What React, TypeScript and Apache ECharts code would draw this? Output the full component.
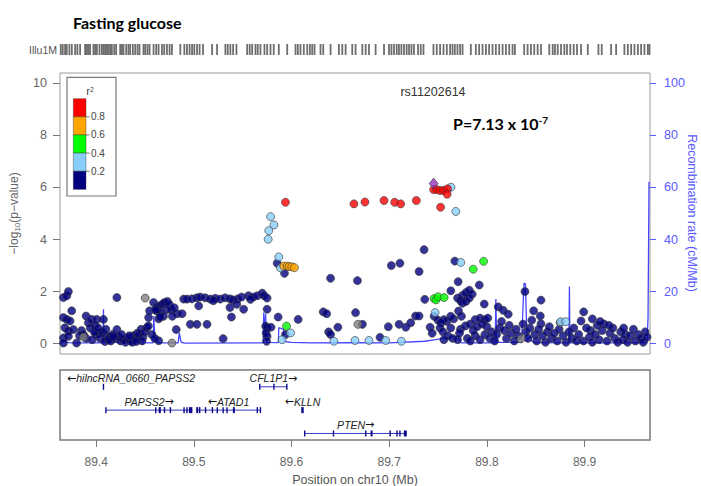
import React, { useEffect, useRef } from "react";
import * as echarts from "echarts";

// ---------- axis ranges / ticks ----------
const X_MIN = 89.363;
const X_MAX = 89.967;
const xTicks = [89.4, 89.5, 89.6, 89.7, 89.8, 89.9];
const pTicks = [0, 2, 4, 6, 8, 10];
const recTicks = [0, 20, 40, 60, 80, 100];

// ---------- LD legend ----------
const r2Breaks = ["0.8", "0.6", "0.4", "0.2"];
const r2Colors = ["#FF0000", "#FFA500", "#00FF00", "#87CEFA", "#000080"]; // top -> bottom

// ---------- SNPs: [position (Mb), -log10 p] ----------
const navySnps: number[][] = [
  [89.3665, 1.77], [89.37, 1.84], [89.3716, 2.0], [89.3665, 1.0], [89.37, 0.93], [89.3733, 0.87], [89.368, 0.61],
  [89.3716, 0.48], [89.375, 1.26], [89.3665, 0.22], [89.3665, 0.02], [89.3716, 0.28], [89.3767, 0.54], [89.38, 0.02],
  [89.385, 0.5], [89.3897, 1.06], [89.392, 0.8], [89.394, 0.6], [89.3955, 0.93], [89.4007, 0.93], [89.4075, 0.93],
  [89.399, 0.7], [89.403, 0.4], [89.4, 0.35], [89.406, 0.45], [89.404, 0.2], [89.411, 0.3], [89.414, 0.25],
  [89.409, 0.08], [89.4125, 0.15], [89.387, 0.35], [89.39, 0.2], [89.383, 0.3], [89.396, 0.15], [89.398, 0.45],
  [89.402, 0.6], [89.41, 0.55], [89.415, 0.1], [89.417, 0.35], [89.4212, 1.77], [89.4212, 0.54], [89.419, 0.2],
  [89.423, 0.27], [89.425, 0.1], [89.428, 0.15], [89.43, 0.05], [89.432, 0.22], [89.435, 0.1], [89.437, 0.05],
  [89.438, 0.3], [89.44, 0.2], [89.442, 0.4], [89.444, 0.35], [89.446, 0.55], [89.448, 0.25], [89.45, 0.45],
  [89.447, 0.1], [89.441, 0.08], [89.434, 0.3], [89.426, 0.35], [89.4178, 0.28], [89.452, 0.62], [89.4535, 0.68],
  [89.4537, 1.0], [89.4547, 1.26], [89.4588, 1.58], [89.462, 1.4], [89.465, 1.45], [89.468, 1.52], [89.47, 1.58],
  [89.473, 1.62], [89.475, 1.5], [89.472, 1.3], [89.477, 1.3], [89.48, 1.38], [89.483, 1.15], [89.462, 1.25],
  [89.466, 1.2], [89.469, 1.05], [89.464, 0.95], [89.461, 1.3], [89.478, 1.05], [89.4656, 1.02], [89.464, 0.11],
  [89.482, 0.54], [89.488, 1.15], [89.457, 0.35], [89.46, 0.2],
  [89.4896, 1.71], [89.493, 1.71], [89.498, 1.72], [89.503, 1.76], [89.5066, 1.79], [89.5117, 1.76], [89.5168, 1.71],
  [89.522, 1.74], [89.527, 1.71], [89.532, 1.76], [89.537, 1.72], [89.54, 1.68], [89.545, 1.72], [89.549, 1.79],
  [89.556, 1.84], [89.561, 1.79], [89.565, 1.84], [89.57, 1.94], [89.572, 1.84], [89.575, 1.75], [89.505, 1.45],
  [89.537, 1.39], [89.544, 1.51], [89.551, 1.32], [89.52, 1.65], [89.558, 1.7], [89.4964, 0.74], [89.5032, 0.74],
  [89.5135, 0.74], [89.53, 0.19], [89.5385, 1.02], [89.575, 1.32], [89.5735, 0.67], [89.575, 0.61], [89.574, 0.41],
  [89.575, 0.28], [89.5745, 0.09], [89.579, 0.63], [89.5863, 1.02], [89.5938, 0.35], [89.6068, 0.93],
  [89.5853, 3.09], [89.5928, 2.7],
  [89.64, 2.51], [89.6325, 1.22], [89.636, 1.15], [89.638, 0.45], [89.64, 0.35], [89.6475, 0.63], [89.6656, 1.19],
  [89.6726, 0.74], [89.6906, 0.24], [89.6675, 2.42], [89.7022, 3.0], [89.711, 3.09], [89.6991, 0.65], [89.7101, 0.74],
  [89.717, 0.63], [89.722, 0.8], [89.727, 1.06], [89.7306, 1.06], [89.7357, 3.61], [89.7306, 2.77], [89.7364, 1.7],
  [89.7419, 0.63], [89.744, 0.4], [89.746, 1.05], [89.75, 0.9],
  [89.7631, 2.03], [89.7672, 3.17], [89.7706, 2.38], [89.7922, 2.25], [89.77, 1.75], [89.775, 1.85], [89.7785, 1.96],
  [89.782, 2.05], [89.785, 1.9], [89.773, 1.65], [89.775, 1.55], [89.7785, 1.62], [89.782, 1.75], [89.7973, 1.52],
  [89.771, 1.25], [89.774, 1.05], [89.766, 0.95], [89.763, 1.05], [89.759, 0.85], [89.756, 0.92], [89.753, 0.8],
  [89.752, 0.6], [89.755, 0.45], [89.763, 0.6], [89.773, 0.55], [89.778, 0.68], [89.783, 0.75], [89.788, 0.92],
  [89.793, 0.98], [89.798, 0.92], [89.801, 0.98], [89.76, 0.3], [89.765, 0.2], [89.77, 0.15], [89.772, 0.4],
  [89.78, 0.2], [89.783, 0.1], [89.788, 0.3], [89.793, 0.15], [89.798, 0.35], [89.803, 0.2], [89.805, 0.45],
  [89.8, 0.65], [89.786, 0.5], [89.756, 0.15], [89.79, 0.65], [89.795, 0.75],
  [89.8116, 1.41], [89.8167, 1.28], [89.8219, 1.13], [89.839, 2.0], [89.8479, 1.26], [89.8554, 1.67], [89.8547, 1.06],
  [89.8554, 0.76], [89.8991, 1.22], [89.8964, 0.87], [89.9062, 0.5],
  [89.808, 0.1], [89.81, 0.35], [89.813, 0.6], [89.815, 0.85], [89.818, 0.5], [89.82, 0.2], [89.823, 0.7],
  [89.825, 0.4], [89.828, 0.1], [89.83, 0.55], [89.832, 0.3], [89.837, 0.75], [89.84, 0.45], [89.842, 0.2],
  [89.844, 0.6], [89.846, 0.9], [89.849, 0.35], [89.851, 0.1], [89.853, 0.55], [89.857, 0.3], [89.86, 0.05],
  [89.862, 0.45], [89.864, 0.65], [89.866, 0.2], [89.869, 0.4], [89.872, 0.1], [89.874, 0.55], [89.878, 0.3],
  [89.881, 0.05], [89.884, 0.45], [89.887, 0.2], [89.889, 0.6], [89.892, 0.1], [89.894, 0.35], [89.899, 0.1],
  [89.902, 0.6], [89.905, 0.25], [89.908, 0.05], [89.911, 0.35], [89.913, 0.7], [89.915, 0.15], [89.918, 0.5],
  [89.92, 0.75], [89.923, 0.1], [89.926, 0.4], [89.929, 0.6], [89.931, 0.2], [89.934, 0.05], [89.937, 0.45],
  [89.939, 0.15], [89.942, 0.35], [89.944, 0.05], [89.947, 0.3], [89.95, 0.55], [89.952, 0.1], [89.955, 0.35],
  [89.958, 0.2], [89.96, 0.05], [89.962, 0.45], [89.964, 0.25], [89.908, 0.95], [89.916, 0.85], [89.925, 0.7],
  [89.94, 0.6],
];
const greySnps: number[][] = [
  [89.387, 0.25], [89.4502, 1.75], [89.4776, 0.02], [89.668, 0.74], [89.8349, 0.18], [89.875, 0.8],
];
const lightBlueSnps: number[][] = [
  [89.5786, 4.88], [89.582, 4.56], [89.5767, 4.34], [89.5761, 4.01], [89.587, 3.33], [89.5887, 2.91], [89.5904, 0.15],
  [89.599, 0.41], [89.6434, 0.09], [89.665, 0.12], [89.6793, 0.12], [89.6964, 0.12], [89.7125, 0.09], [89.747, 1.19],
  [89.7733, 3.12], [89.7632, 6.01], [89.7682, 5.08], [89.8756, 0.84], [89.8807, 0.84],
];
const greenSnps: number[][] = [
  [89.5949, 0.67], [89.746, 1.73], [89.748, 1.68], [89.7501, 1.8], [89.7562, 1.77], [89.786, 2.86], [89.7966, 3.16],
];
const orangeSnps: number[][] = [
  [89.592, 2.98], [89.5955, 2.98], [89.5976, 2.96], [89.6003, 2.95], [89.603, 2.92],
];
const redSnps: number[][] = [
  [89.5938, 5.43], [89.6639, 5.37], [89.6752, 5.44], [89.6947, 5.5], [89.7056, 5.43], [89.7118, 5.37], [89.7278, 5.5],
  [89.7526, 5.24], [89.7455, 5.92], [89.7485, 5.92], [89.752, 5.88], [89.7556, 5.89], [89.7597, 5.95], [89.7593, 5.74],
];
const indexSnp: number[][] = [[89.7455, 6.15]];

// ---------- recombination rate ----------
const recPos = [
  89.363, 89.3655, 89.3665, 89.368, 89.372, 89.376, 89.407, 89.4075, 89.408, 89.4585, 89.459, 89.46, 89.463, 89.484,
  89.4851, 89.487, 89.49, 89.571, 89.5716, 89.5725, 89.5735, 89.5745, 89.5865, 89.587, 89.592, 89.5925, 89.6, 89.62,
  89.66, 89.7, 89.7366, 89.7477, 89.755, 89.7631, 89.7699, 89.7733, 89.78, 89.8085, 89.8092, 89.81, 89.8355, 89.838,
  89.8395, 89.841, 89.844, 89.846, 89.848, 89.884, 89.8845, 89.885, 89.964, 89.965, 89.966, 89.967,
];
const recRate = [
  0.2, 0.3, 1.2, 0.8, 0.4, 0.3, 0.3, 13.2, 0.5, 0.3, 10.6, 2.5, 0.3, 0.3, 4.1, 0.6, 0.2, 0.3, 11.9, 3.0, 11.5, 0.5,
  0.4, 6.1, 5.5, 0.8, 0.5, 0.3, 0.4, 0.3, 0.9, 1.5, 2.0, 2.4, 2.8, 0.3, 0.3, 0.3, 17.1, 0.5, 0.5, 23.2, 23.0, 1.0,
  3.0, 1.0, 0.4, 0.3, 21.9, 0.3, 0.3, 10, 62, 62,
];

// ---------- Illu1M array positions (Mb) ----------
const rugPositions = [
  89.3638, 89.3658, 89.3682, 89.3699, 89.3726, 89.3751, 89.3785, 89.3808, 89.3836, 89.3887, 89.3905, 89.3921, 89.3938,
  89.3972, 89.399, 89.4007, 89.4034, 89.4058, 89.4075, 89.4092, 89.411, 89.4126, 89.4144, 89.4161, 89.4185, 89.4205,
  89.4246, 89.4264, 89.428, 89.4308, 89.4331, 89.4349, 89.4376, 89.44, 89.4424, 89.4444, 89.4485, 89.4503, 89.4526,
  89.4547, 89.4588, 89.4615, 89.4639, 89.4674, 89.4697, 89.4725, 89.4752, 89.4776, 89.4862, 89.4903, 89.493, 89.4957,
  89.4982, 89.5005, 89.5033, 89.5059, 89.5094, 89.5187, 89.5238, 89.5323, 89.5347, 89.5374, 89.5402, 89.5436, 89.5546,
  89.5572, 89.5597, 89.5631, 89.5654, 89.5682, 89.5723, 89.5751, 89.5785, 89.5818, 89.587, 89.5956, 89.6041, 89.6065,
  89.6092, 89.6126, 89.6161, 89.6188, 89.6212, 89.6236, 89.6297, 89.6325, 89.64, 89.6485, 89.652, 89.6554, 89.6622,
  89.6656, 89.6725, 89.6759, 89.6793, 89.6861, 89.6947, 89.6998, 89.7023, 89.7049, 89.7077, 89.71, 89.7125, 89.7152,
  89.7179, 89.7203, 89.7228, 89.7254, 89.7295, 89.7323, 89.7351, 89.7453, 89.7487, 89.7521, 89.7556, 89.759, 89.7623,
  89.7648, 89.7672, 89.7699, 89.7726, 89.7751, 89.7836, 89.7887, 89.7921, 89.7956, 89.799, 89.8023, 89.8058, 89.8092,
  89.8126, 89.8161, 89.8195, 89.8229, 89.8263, 89.8287, 89.8382, 89.8417, 89.8451, 89.8485, 89.852, 89.8554, 89.8639,
  89.8674, 89.8697, 89.8725, 89.8759, 89.8793, 89.882, 89.8854, 89.8889, 89.8923, 89.8964, 89.9033, 89.9142, 89.9176,
  89.9272, 89.9323, 89.9408, 89.9443, 89.9477, 89.9511, 89.9546, 89.9579, 89.9613, 89.9648, 89.9665,
];

// ---------- genes ----------
const geneNames = ["hilncRNA_0660_PAPSS2", "CFL1P1", "PAPSS2", "ATAD1", "KLLN", "PTEN"];
const geneStarts = [89.4075, 89.5675, 89.41, 89.5025, 89.61, 89.6135];
const geneEnds = [89.4085, 89.5955, 89.4985, 89.5685, 89.6125, 89.718];
const geneRows = [1, 1, 2, 2, 2, 3];
const geneStrands = [-1, 1, 1, -1, -1, 1];
const geneExons: number[][][] = [
  [[89.4075, 89.4085]],
  [[89.5675, 89.5678], [89.582, 89.5823], [89.5952, 89.5955]],
  [[89.41, 89.4103], [89.461, 89.4613], [89.464, 89.4662], [89.47, 89.4703], [89.476, 89.4763], [89.49, 89.4903],
   [89.493, 89.4933], [89.495, 89.4985]],
  [[89.5025, 89.5045], [89.506, 89.5063], [89.512, 89.5123], [89.519, 89.5193], [89.524, 89.5243], [89.53, 89.5303],
   [89.534, 89.5343], [89.54, 89.542], [89.565, 89.5653], [89.5682, 89.5685]],
  [[89.61, 89.6125]],
  [[89.6135, 89.6138], [89.643, 89.6433], [89.676, 89.6763], [89.681, 89.683], [89.701, 89.7013], [89.708, 89.7083],
   [89.711, 89.7113], [89.715, 89.718]],
];

const FONT = '"Liberation Sans", Arial, sans-serif';

const scatterStyle = (color: string) => ({
  color,
  borderColor: "#3a3a3a",
  borderWidth: 0.8,
});

let measureCtx: CanvasRenderingContext2D | null = null;
function textWidth(t: string, font: string): number {
  if (!measureCtx) measureCtx = document.createElement("canvas").getContext("2d");
  if (!measureCtx) return t.length * 6;
  measureCtx.font = font;
  return measureCtx.measureText(t).width;
}

export default function App() {
  const ref = useRef<HTMLDivElement>(null);

  useEffect(() => {
    if (!ref.current) return;
    const chart = echarts.init(ref.current, undefined, { renderer: "svg" });

    const gridMain = { left: 60, top: 73, width: 590, height: 281 };
    const gridGene = { left: 60, top: 370, width: 590, height: 70 };
    const gridRug = { left: 60, top: 44, width: 590, height: 11 };

    // legend graphics
    const legendX = 67, legendY = 77.3, legendW = 49, legendH = 118.7;
    const segX = 73.3, segW = 12.7, segTop = 98.7, segH = 18.13;
    const legendEls: any[] = [
      { type: "rect", shape: { x: legendX, y: legendY, width: legendW, height: legendH },
        style: { fill: "#fff", stroke: "#7a7a7a", lineWidth: 1.2 }, z: 10 },
      { type: "text", x: 90, y: 91, z: 11,
        style: { text: "r{s|2}", font: `11px ${FONT}`, fill: "#444", align: "center", verticalAlign: "middle",
          rich: { s: { fontSize: 7, fill: "#444", verticalAlign: "top", lineHeight: 8 } } } },
    ];
    r2Colors.forEach((c, k) => {
      legendEls.push({ type: "rect", z: 11,
        shape: { x: segX, y: segTop + k * segH, width: segW, height: segH },
        style: { fill: c, stroke: "#333", lineWidth: 0.4 } });
    });
    r2Breaks.forEach((b, k) => {
      const y = segTop + (k + 1) * segH;
      legendEls.push({ type: "line", z: 11, shape: { x1: segX + segW, y1: y, x2: segX + segW + 3.5, y2: y },
        style: { stroke: "#555", lineWidth: 0.8 } });
      legendEls.push({ type: "text", z: 11, x: segX + segW + 5, y,
        style: { text: b, font: `10px ${FONT}`, fill: "#444", align: "left", verticalAlign: "middle" } });
    });

    const geneData = geneNames.map((_, i) => [geneStarts[i], geneEnds[i], geneRows[i]]);
    const labelFont = `italic 10.5px ${FONT}`;
    const arrowFont = `11px "DejaVu Sans", sans-serif`;

    chart.setOption({
      animation: false,
      backgroundColor: "#fff",
      grid: [
        { ...gridMain, show: true, borderColor: "#9c9c9c", borderWidth: 1, backgroundColor: "transparent",
          outerBoundsMode: "none", containLabel: false },
        { ...gridGene, show: true, borderColor: "#7a7a7a", borderWidth: 1.5, backgroundColor: "transparent",
          outerBoundsMode: "none", containLabel: false },
        { ...gridRug, show: false, outerBoundsMode: "none", containLabel: false },
      ],
      xAxis: [
        { gridIndex: 0, type: "value", min: X_MIN, max: X_MAX, show: false },
        {
          gridIndex: 1, type: "value", min: X_MIN, max: X_MAX,
          axisLine: { show: false },
          splitLine: { show: false },
          axisTick: { show: true, customValues: xTicks, length: 7, lineStyle: { color: "#777", width: 1 } },
          axisLabel: { customValues: xTicks, formatter: (v: number) => v.toFixed(1), margin: 16,
            color: "#666", fontSize: 12, fontFamily: FONT },
          name: "Position on chr10 (Mb)", nameLocation: "middle", nameGap: 33,
          nameTextStyle: { color: "#555", fontSize: 12.5, fontFamily: FONT },
        },
        { gridIndex: 2, type: "value", min: X_MIN, max: X_MAX, show: false },
      ],
      yAxis: [
        {
          gridIndex: 0, type: "value", position: "left", min: -0.4, max: 10.4,
          axisLine: { show: false }, splitLine: { show: false },
          axisTick: { show: true, customValues: pTicks, length: 7, lineStyle: { color: "#777" } },
          axisLabel: { customValues: pTicks, margin: 13, color: "#666", fontSize: 12.5, fontFamily: FONT },
          name: "\u2212log{s|10}(p\u2212value)", nameLocation: "middle", nameGap: 39, nameRotate: 90,
          nameTextStyle: { color: "#666", fontSize: 12, fontFamily: FONT,
            rich: { s: { fontSize: 8, color: "#666", fontFamily: FONT, verticalAlign: "bottom", padding: [6, 0, 0, 0] } } },
        },
        {
          gridIndex: 0, type: "value", position: "right", min: -4, max: 104,
          axisLine: { show: false }, splitLine: { show: false },
          axisTick: { show: true, customValues: recTicks, length: 6, lineStyle: { color: "#5a5aff" } },
          axisLabel: { customValues: recTicks, margin: 14, color: "#5a5aff", fontSize: 12.5, fontFamily: FONT },
        },
        { gridIndex: 1, type: "value", min: 0.28, max: 3.28, inverse: true, show: false },
        { gridIndex: 2, type: "value", min: 0, max: 1, show: false },
      ],
      series: [
        {
          type: "line", xAxisIndex: 0, yAxisIndex: 1, z: 1,
          data: recPos.map((p, i) => [p, recRate[i]]),
          showSymbol: false, symbol: "none",
          lineStyle: { color: "#4646ff", width: 1.3 },
          clip: true,
        },
        ...[
          [navySnps, "#000080"], [greySnps, "#808080"], [lightBlueSnps, "#87CEFA"], [greenSnps, "#00FF00"],
          [orangeSnps, "#FFA500"], [redSnps, "#FF0000"],
        ].map(([d, c], k) => ({
          type: "scatter", xAxisIndex: 0, yAxisIndex: 0, z: 3 + k,
          data: d as number[][], symbol: "circle", symbolSize: 8,
          itemStyle: scatterStyle(c as string),
        })),
        {
          type: "scatter", xAxisIndex: 0, yAxisIndex: 0, z: 12,
          data: indexSnp, symbol: "diamond", symbolSize: [9, 11],
          itemStyle: { color: "#9632B8", borderColor: "#3a3a3a", borderWidth: 0.8 },
        },
        {
          type: "scatter", xAxisIndex: 2, yAxisIndex: 3, z: 2,
          data: rugPositions.map((p) => [p, 0.5]),
          symbol: "rect", symbolSize: [1.8, 11],
          itemStyle: { color: "#4a4a4a" },
        },
        {
          type: "custom", xAxisIndex: 1, yAxisIndex: 2, z: 5,
          data: geneData,
          encode: { x: [0, 1], y: 2 },
          renderItem: (params: any, api: any) => {
            const i = params.dataIndex;
            const row = geneRows[i];
            const a = api.coord([geneStarts[i], row]);
            const b = api.coord([geneEnds[i], row]);
            const y = a[1];
            const children: any[] = [];
            if (b[0] - a[0] > 4) {
              children.push({ type: "line", shape: { x1: a[0], y1: y, x2: b[0], y2: y },
                style: { stroke: "#3a3ac4", lineWidth: 1 } });
            }
            geneExons[i].forEach(([s, e]) => {
              const xs = api.coord([s, row])[0];
              const xe = api.coord([e, row])[0];
              let w = xe - xs;
              let x0 = xs;
              if (w < 1.4) { x0 = xs - 0.7; w = 1.4; }
              children.push({ type: "rect", shape: { x: x0, y: y - 3, width: w, height: 6 },
                style: { fill: "#0a0a8a" } });
            });
            const fwd = geneStrands[i] > 0;
            const label = fwd ? geneNames[i] + "{a|\u2192}" : "{a|\u2190}" + geneNames[i];
            const w = textWidth(geneNames[i], labelFont) + textWidth("\u2192", arrowFont);
            let cx = (a[0] + b[0]) / 2;
            const left = params.coordSys.x + 7;
            const right = params.coordSys.x + params.coordSys.width - 7;
            if (cx - w / 2 < left) cx = left + w / 2;
            if (cx + w / 2 > right) cx = right - w / 2;
            children.push({ type: "text", x: cx, y: y - 8.5,
              style: { text: label, font: labelFont, fill: "#222", align: "center", verticalAlign: "middle",
                rich: { a: { font: arrowFont, fill: "#111" } } } });
            return { type: "group", children };
          },
        },
      ],
      graphic: [
        { type: "text", x: 73, y: 22.7,
          style: { text: "Fasting glucose", font: `bold 16px Lato, "Open Sans", sans-serif`, fill: "#000",
            align: "left", verticalAlign: "middle" } },
        { type: "text", x: 57, y: 49.5,
          style: { text: "Illu1M", font: `10.5px ${FONT}`, fill: "#555", align: "right", verticalAlign: "middle" } },
        { type: "text", x: 433, y: 92, z: 20,
          style: { text: "rs11202614", font: `12.5px ${FONT}`, fill: "#333", align: "center", verticalAlign: "middle" } },
        { type: "text", x: 453, y: 123, z: 20,
          style: { text: "P=7.13 x 10{sup|-7}", font: `bold 16px Lato, "Open Sans", sans-serif`, fill: "#000",
            align: "left", verticalAlign: "middle",
            rich: { sup: { fontSize: 10, fontWeight: "bold", fontFamily: "Lato", fill: "#000", verticalAlign: "top", lineHeight: 10 } } } },
        { type: "text", x: 692, y: 213, rotation: -Math.PI / 2, z: 20,
          style: { text: "Recombination rate (cM/Mb)", font: `12.5px ${FONT}`, fill: "#5a5aff",
            align: "center", verticalAlign: "middle" } },
        ...legendEls,
      ],
    });

    return () => chart.dispose();
  }, []);

  return (
    <div
      ref={ref}
      style={{ position: "fixed", left: 0, top: 0, width: 701, height: 486, background: "#fff" }}
    />
  );
}
